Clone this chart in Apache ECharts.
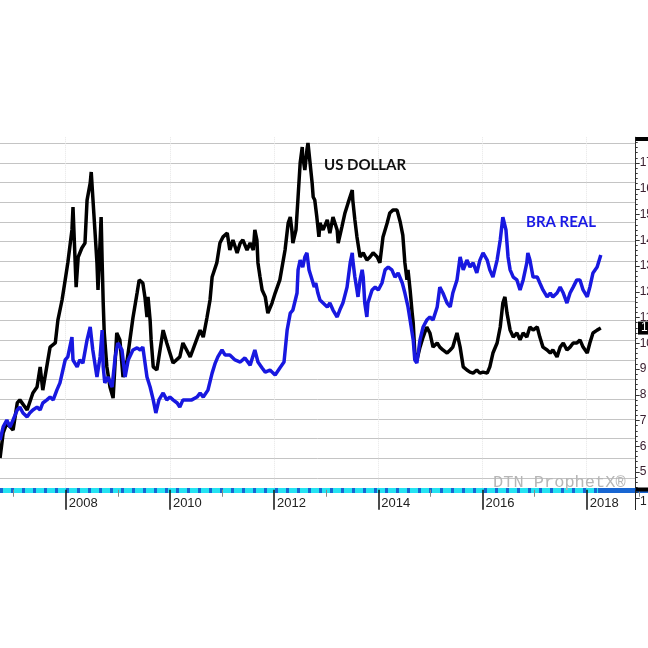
<!DOCTYPE html>
<html>
<head>
<meta charset="utf-8">
<script src="https://cdn.jsdelivr.net/npm/echarts@6/dist/echarts.min.js"></script>
<style>html,body{margin:0;padding:0;background:#fff;}#c{width:648px;height:648px;}</style>
</head>
<body>
<div id="c"></div>
<script>
// ---- data (decimal year, value on right-hand scale) ----
const yAxisLabels = [5, 6, 7, 8, 9, 10, 11, 12, 13, 14, 15, 16, 17];
const xTickYears = [2008, 2010, 2012, 2014, 2016, 2018];

const usdYears = [2006.74,2006.80,2006.87,2006.99,2007.07,2007.12,2007.26,2007.37,2007.45,2007.51,2007.56,2007.70,2007.80,2007.85,2007.93,2007.99,2008.04,2008.12,2008.14,2008.20,2008.24,2008.31,2008.37,2008.41,2008.47,2008.49,2008.52,2008.56,2008.60,2008.62,2008.68,2008.70,2008.72,2008.74,2008.79,2008.85,2008.91,2008.98,2009.04,2009.10,2009.18,2009.29,2009.37,2009.41,2009.48,2009.52,2009.56,2009.58,2009.62,2009.64,2009.68,2009.75,2009.87,2009.94,2010.06,2010.19,2010.25,2010.39,2010.44,2010.58,2010.64,2010.71,2010.77,2010.81,2010.90,2010.96,2011.02,2011.10,2011.15,2011.21,2011.29,2011.35,2011.40,2011.48,2011.54,2011.60,2011.63,2011.67,2011.69,2011.73,2011.77,2011.83,2011.88,2011.96,2012.02,2012.11,2012.21,2012.27,2012.31,2012.34,2012.36,2012.42,2012.46,2012.50,2012.54,2012.55,2012.59,2012.63,2012.65,2012.69,2012.73,2012.75,2012.78,2012.82,2012.86,2012.88,2012.94,2013.02,2013.07,2013.13,2013.21,2013.23,2013.30,2013.36,2013.42,2013.50,2013.51,2013.55,2013.59,2013.65,2013.71,2013.78,2013.84,2013.90,2013.98,2014.03,2014.09,2014.17,2014.22,2014.28,2014.36,2014.42,2014.47,2014.51,2014.55,2014.57,2014.61,2014.65,2014.67,2014.70,2014.74,2014.80,2014.86,2014.93,2014.99,2015.05,2015.13,2015.18,2015.24,2015.32,2015.38,2015.43,2015.51,2015.57,2015.63,2015.70,2015.76,2015.82,2015.89,2015.95,2016.01,2016.09,2016.14,2016.20,2016.28,2016.34,2016.39,2016.43,2016.47,2016.53,2016.59,2016.66,2016.72,2016.78,2016.85,2016.91,2016.97,2017.05,2017.10,2017.16,2017.24,2017.30,2017.35,2017.43,2017.49,2017.55,2017.62,2017.68,2017.74,2017.81,2017.87,2017.93,2018.01,2018.06,2018.12,2018.20,2018.27];
const usdValues = [5.54,6.52,6.90,6.63,7.68,7.80,7.41,8.07,8.30,9.08,8.18,9.85,10.01,10.90,11.68,12.46,13.12,14.40,15.29,12.18,13.35,13.70,13.89,15.56,16.22,16.65,15.68,14.40,13.12,12.07,14.90,13.12,11.56,10.40,9.08,8.30,7.87,10.40,10.13,8.69,9.35,10.98,11.95,12.46,12.34,11.80,11.02,11.80,10.90,10.13,9.08,8.96,10.51,10.01,9.23,9.47,10.01,9.47,9.74,10.51,10.24,10.98,11.68,12.57,13.12,13.89,14.13,14.28,13.62,14.01,13.51,13.89,14.01,13.62,13.89,13.62,14.40,14.01,13.12,12.57,12.07,11.80,11.17,11.56,11.95,12.46,13.62,14.67,14.90,14.40,13.89,14.40,15.68,17.00,17.62,17.23,16.73,17.51,17.78,17.00,16.22,15.68,15.56,14.90,14.13,14.67,14.40,14.79,14.28,14.90,14.40,13.89,14.51,15.06,15.45,15.95,15.56,14.79,14.13,13.35,13.51,13.23,13.35,13.51,13.35,13.12,14.13,14.67,15.06,15.17,15.17,14.71,14.20,13.12,12.46,12.85,12.07,11.17,10.79,9.62,9.35,9.85,10.24,10.63,10.40,9.85,10.01,9.85,9.74,9.62,9.74,9.85,10.40,9.85,9.08,8.96,8.88,8.84,8.96,8.84,8.88,8.84,9.08,9.62,10.01,10.63,11.56,11.80,11.17,10.51,10.24,10.40,10.13,10.40,10.24,10.63,10.51,10.63,10.24,9.85,9.74,9.62,9.74,9.47,9.85,10.01,9.74,9.85,10.01,10.01,10.13,9.85,9.62,10.01,10.40,10.51,10.59];

const brlYears = [2006.74,2006.80,2006.87,2006.93,2006.99,2007.07,2007.12,2007.18,2007.26,2007.31,2007.37,2007.45,2007.51,2007.56,2007.64,2007.70,2007.76,2007.83,2007.89,2007.99,2008.04,2008.12,2008.14,2008.22,2008.27,2008.33,2008.41,2008.47,2008.52,2008.60,2008.66,2008.70,2008.72,2008.75,2008.81,2008.89,2008.95,2009.00,2009.08,2009.14,2009.20,2009.29,2009.37,2009.43,2009.48,2009.56,2009.62,2009.68,2009.73,2009.79,2009.87,2009.94,2010.00,2010.06,2010.14,2010.19,2010.25,2010.33,2010.42,2010.52,2010.58,2010.64,2010.73,2010.81,2010.87,2010.92,2011.00,2011.06,2011.15,2011.25,2011.35,2011.44,2011.54,2011.63,2011.69,2011.77,2011.83,2011.92,2012.02,2012.11,2012.19,2012.25,2012.31,2012.36,2012.44,2012.46,2012.50,2012.55,2012.59,2012.63,2012.67,2012.73,2012.77,2012.80,2012.84,2012.88,2012.94,2013.02,2013.07,2013.13,2013.21,2013.26,2013.32,2013.40,2013.46,2013.50,2013.51,2013.55,2013.59,2013.61,2013.65,2013.69,2013.71,2013.74,2013.78,2013.80,2013.88,2013.94,2014.00,2014.07,2014.13,2014.19,2014.26,2014.32,2014.38,2014.46,2014.51,2014.57,2014.61,2014.67,2014.70,2014.74,2014.80,2014.86,2014.93,2014.99,2015.05,2015.13,2015.18,2015.24,2015.32,2015.38,2015.43,2015.51,2015.57,2015.63,2015.70,2015.76,2015.82,2015.89,2015.95,2016.01,2016.09,2016.14,2016.20,2016.28,2016.34,2016.39,2016.45,2016.49,2016.53,2016.59,2016.66,2016.72,2016.78,2016.85,2016.87,2016.91,2016.97,2017.05,2017.10,2017.16,2017.24,2017.30,2017.35,2017.43,2017.49,2017.55,2017.62,2017.68,2017.74,2017.81,2017.87,2017.93,2018.01,2018.06,2018.12,2018.20,2018.27];
const brlValues = [6.24,6.75,7.02,6.75,7.02,7.41,7.52,7.29,7.14,7.29,7.41,7.52,7.41,7.68,7.80,7.91,7.80,8.18,8.46,9.35,9.47,10.24,9.35,9.08,9.35,9.23,10.13,10.63,9.74,8.69,9.47,10.51,9.08,8.46,8.69,8.30,9.47,10.01,9.74,8.69,9.35,9.74,9.82,9.74,9.85,8.69,8.30,7.80,7.29,7.80,8.07,7.80,7.91,7.80,7.68,7.52,7.80,7.80,7.80,7.91,8.07,7.91,8.18,8.84,9.23,9.47,9.74,9.54,9.54,9.35,9.27,9.43,9.15,9.74,9.27,9.04,8.88,8.96,8.77,9.04,9.27,10.51,11.17,11.29,11.95,12.85,13.23,12.96,13.35,13.51,12.85,12.46,12.18,12.34,11.95,11.68,11.56,11.41,11.56,11.29,11.02,11.29,11.56,12.18,13.12,13.51,13.23,12.57,12.07,11.80,12.46,12.85,12.57,11.56,11.02,11.56,12.07,12.18,12.07,12.34,12.85,12.96,12.85,12.57,12.73,12.34,11.95,11.41,10.90,10.13,9.35,9.23,10.13,10.63,10.90,11.02,10.90,11.41,12.18,11.95,11.56,11.41,11.95,12.46,13.35,12.85,13.23,12.96,13.12,12.73,13.23,13.51,13.23,12.85,12.57,13.23,14.01,14.90,14.40,13.35,12.85,12.57,12.46,12.07,12.46,13.12,13.51,13.23,12.57,12.57,12.34,12.07,11.80,11.95,11.80,11.95,12.18,11.95,11.56,11.95,12.18,12.46,12.46,12.07,11.80,12.18,12.73,12.96,13.43];

const usdData = usdYears.map((y, i) => [y, usdValues[i]]);
const brlData = brlYears.map((y, i) => [y, brlValues[i]]);
const lastUsd = usdValues[usdValues.length - 1];

// striped time-bar styling (cyan blocks on blue, solid blue after the data end)
const BAR_BLUE = '#1866d2', BAR_CYAN = '#25e3f2';
const stripeStops = [];
for (let x = 0; x < 598; x += 11) {
  const a = x / 648, b = (x + 3) / 648, c = Math.min(x + 11, 598) / 648;
  stripeStops.push({offset: a, color: BAR_BLUE}, {offset: b, color: BAR_BLUE},
                   {offset: b, color: BAR_CYAN}, {offset: c, color: BAR_CYAN});
}
stripeStops.push({offset: 598 / 648, color: BAR_BLUE}, {offset: 1, color: BAR_BLUE});

const chart = echarts.init(document.getElementById('c'), null, {renderer: 'canvas'});
const GRID_TOP = 137.25, GRID_BOTTOM = 150.25, GRID_LEFT = -38.5;

const staticGraphics = [
  {type: 'text', left: 324, top: 158, z: 10,
   style: {text: 'US DOLLAR', fill: '#111', font: 'bold 15px Lato, "Liberation Sans", sans-serif'}},
  {type: 'text', left: 526, top: 215, z: 10,
   style: {text: 'BRA REAL', fill: '#1a1ae6', font: 'bold 15px Lato, "Liberation Sans", sans-serif'}},
  {type: 'text', left: 493, top: 474, z: 1,
   style: {text: 'DTN ProphetX®', fill: '#b6b6b6', font: '17px "Liberation Mono", monospace'}},
  {type: 'rect', shape: {x: 635.5, y: 137, width: 13, height: 4}, style: {fill: '#000'}, z: 20},
  {type: 'rect', shape: {x: 635.5, y: 487.5, width: 13, height: 4}, style: {fill: '#000'}, z: 20},
  {type: 'line', shape: {x1: 635.5, y1: 490, x2: 635.5, y2: 510}, style: {stroke: '#222', lineWidth: 1}, z: 20},
  {type: 'text', left: 640, top: 496, z: 20,
   style: {text: '1', fill: '#222', font: '12px "Liberation Sans", Arial, sans-serif'}}
];

const option = {
  animation: false,
  backgroundColor: '#ffffff',
  grid: [
    {left: GRID_LEFT, right: 12.3, top: GRID_TOP, bottom: GRID_BOTTOM, outerBoundsMode: 'none', containLabel: false},
    {left: GRID_LEFT, right: -42.9, top: GRID_TOP, bottom: GRID_BOTTOM, outerBoundsMode: 'none', containLabel: false}
  ],
  xAxis: [
    {
      gridIndex: 0, type: 'value', min: 2006, max: 2018.94, interval: 2,
      axisLine: {show: false}, axisTick: {show: false}, axisLabel: {show: false},
      splitLine: {show: true, lineStyle: {color: '#e6e6e6', type: 'dotted', width: 1}}
    },
    {
      gridIndex: 1, type: 'value', min: 2006, max: 2020, interval: 2, offset: -8,
      axisLine: {show: true, lineStyle: {
        width: 5,
        color: {type: 'linear', x: 0, y: 0, x2: 648, y2: 0, global: true, colorStops: stripeStops}
      }},
      axisTick: {show: true, length: 20, lineStyle: {color: '#111', width: 1.5}},
      minorTick: {show: true, splitNumber: 2, length: 7, lineStyle: {color: '#888', width: 1}},
      axisLabel: {
        show: true, align: 'left', margin: 7, padding: [0, 0, 0, 3],
        color: '#222', fontSize: 13, fontFamily: 'Liberation Sans, Arial, sans-serif',
        formatter: v => xTickYears.indexOf(v) >= 0 ? String(v) : ''
      },
      splitLine: {show: false}
    }
  ],
  yAxis: [
    {
      gridIndex: 0, type: 'value', position: 'right', min: 4, max: 18, interval: 1,
      axisLine: {show: true, lineStyle: {color: '#333', width: 1}},
      axisTick: {show: true, length: 4, lineStyle: {color: '#333'}},
      minorTick: {show: true, splitNumber: 5, length: 2, lineStyle: {color: '#333'}},
      axisLabel: {
        show: true, margin: 4, color: '#3a2030', fontSize: 12,
        fontFamily: 'Liberation Sans, Arial, sans-serif',
        formatter: v => yAxisLabels.indexOf(v) >= 0 ? String(v) : ''
      },
      splitLine: {show: false}
    },
    {
      gridIndex: 0, type: 'value', min: 0, max: 18.3, interval: 1, show: true,
      axisLine: {show: false}, axisTick: {show: false}, axisLabel: {show: false},
      splitLine: {show: true, showMinLine: false, showMaxLine: false, lineStyle: {color: '#c4c4c4', width: 1}}
    },
    {gridIndex: 1, type: 'value', show: false}
  ],
  series: [
    {
      name: 'US DOLLAR', type: 'line', xAxisIndex: 0, yAxisIndex: 0, data: usdData,
      showSymbol: false, symbol: 'none', lineStyle: {color: '#000', width: 3.5}, z: 3
    },
    {
      name: 'BRA REAL', type: 'line', xAxisIndex: 0, yAxisIndex: 0, data: brlData,
      showSymbol: false, symbol: 'none', lineStyle: {color: '#1818e0', width: 3.5}, z: 4
    }
  ],
  graphic: staticGraphics
};
chart.setOption(option);

// last-value tag on the right axis, placed through the axis scale
const tagY = chart.convertToPixel({yAxisIndex: 0}, lastUsd);
chart.setOption({
  graphic: staticGraphics.concat([
    {type: 'rect', shape: {x: 638, y: tagY - 6.5, width: 12, height: 13}, style: {fill: '#000'}, z: 30},
    {type: 'text', left: 641, top: tagY - 6, z: 31,
     style: {text: lastUsd.toFixed(2), fill: '#fff', font: '12px "Liberation Sans", Arial, sans-serif'}}
  ])
});
</script>
</body>
</html>
